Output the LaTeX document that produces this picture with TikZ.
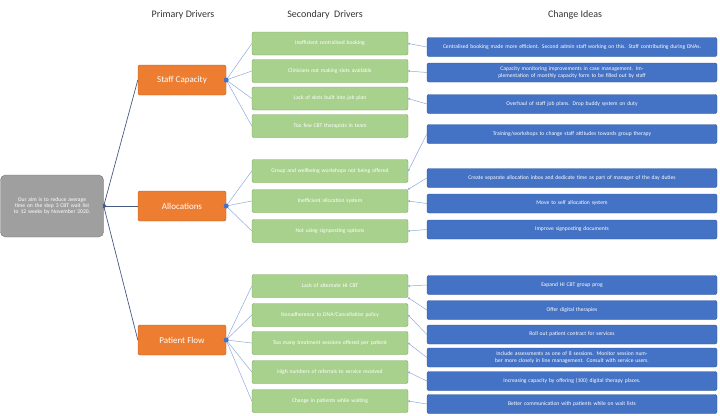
\documentclass[tikz,border=0pt]{standalone}
\usepackage{fontspec}
\setmainfont{Carlito}
\usetikzlibrary{arrows.meta}
\definecolor{orfill}{RGB}{237,125,49}
\definecolor{ordraw}{RGB}{190,95,40}
\definecolor{grfill}{RGB}{169,209,142}
\definecolor{grdraw}{RGB}{120,165,95}
\definecolor{blfill}{RGB}{68,114,196}
\definecolor{bldraw}{RGB}{47,85,151}
\definecolor{lklight}{RGB}{143,170,220}
\definecolor{lkdark}{RGB}{70,90,130}
\begin{document}
\begin{tikzpicture}[x=1pt,y=-1pt,
 base/.style={rounded corners=2pt,text=white,align=center,inner sep=1pt,font=\fontsize{5.6}{6.2}\selectfont},
 aim/.style={base,fill=gray!75,draw=gray!90!black,minimum width=103pt,minimum height=62pt,text width=88pt,rounded corners=5pt},
 prim/.style={base,fill=orfill,draw=ordraw,minimum width=88pt,minimum height=30pt,font=\fontsize{9}{10}\selectfont},
 sec/.style={base,fill=grfill,draw=grdraw,minimum width=156pt,minimum height=23pt,text width=150pt},
 idea/.style={base,fill=blfill,draw=bldraw,minimum width=290pt,minimum height=19pt,text width=285pt},
 hdr/.style={font=\fontsize{10}{12}\selectfont,text=black!80},
 lk/.style={draw=lklight,line width=0.5pt},
 mk/.style={lk,-{Circle[length=2pt]}},
 pk/.style={draw=lkdark,line width=0.7pt}]
\useasboundingbox (0,0) rectangle (720,415);
\node[hdr] (h1) at (183,15) {Primary Drivers};
\node[hdr] (h2) at (325,15) {Secondary\ \ Drivers};
\node[hdr] (h3) at (575,15) {Change Ideas};
\node[aim] (aim) at (52,206) {Our aim is to reduce average time on the step 3 CBT wait list to 12 weeks by November 2020.};
\node[prim] (p1) at (182,80) {Staff Capacity};
\node[prim] (p2) at (182,206) {Allocations};
\node[prim] (p3) at (182,340) {Patient Flow};
\node[sec] (s1) at (330,43.5) {Inefficient centralised booking};
\node[sec] (s2) at (330,71) {Clinicians not making slots available};
\node[sec] (s3) at (330,98.5) {Lack of slots built into job plan};
\node[sec] (s4) at (330,126) {Too few CBT therapists in team};
\node[sec] (s5) at (330,171) {Group and wellbeing workshops not being offered};
\node[sec] (s6) at (330,201) {Inefficient allocation system};
\node[sec] (s7) at (330,231) {Not using signposting options};
\node[sec] (s8) at (330,286) {Lack of alternate HI CBT};
\node[sec] (s9) at (330,315) {Nonadherence to DNA/Cancellation policy};
\node[sec] (s10) at (330,343) {Too many treatment sessions offered per patient};
\node[sec] (s11) at (330,372) {High numbers of referrals to service received};
\node[sec] (s12) at (330,401) {Change in patients while waiting};
\node[idea] (i1) at (572,47) {Centralised booking made more efficient. Second admin staff working on this. Staff contributing during DNAs.};
\node[idea] (i2) at (572,72.5) {Capacity monitoring improvements in case management. Implementation of monthly capacity form to be filled out by staff};
\node[idea] (i3) at (572,104) {Overhaul of staff job plans. Drop buddy system on duty};
\node[idea] (i4) at (572,134) {Training/workshops to change staff attitudes towards group therapy};
\node[idea] (i5) at (572,178) {Create separate allocation inbox and dedicate time as part of manager of the day duties};
\node[idea] (i6) at (572,203.5) {Move to self allocation system};
\node[idea] (i7) at (572,229.5) {Improve signposting documents};
\node[idea] (i8) at (572,285) {Expand HI CBT group prog};
\node[idea] (i9) at (572,310) {Offer digital therapies};
\node[idea] (i10) at (572,334.5) {Roll out patient contract for services};
\node[idea] (i11) at (572,357.5) {Include assessments as one of 8 sessions. Monitor session number more closely in line management. Consult with service users.};
\node[idea] (i12) at (572,381) {Increasing capacity by offering (100) digital therapy places.};
\node[idea] (i13) at (572,404) {Better communication with patients while on wait lists};
\foreach \p in {p1,p2,p3} \draw[pk,-{Circle[length=2.5pt]}] (\p.west) -- (aim.east);
\foreach \s in {s1,s2,s3,s4} \draw[lk] (p1.east) -- (\s.west);
\foreach \s in {s5,s6,s7} \draw[lk] (p2.east) -- (\s.west);
\foreach \s in {s8,s9,s10,s11,s12} \draw[lk] (p3.east) -- (\s.west);
\foreach \p in {p1,p2,p3} \fill[blfill] (\p.east) circle (2.5pt);
\draw[mk] (i1.west) -- (s1.east);
\draw[mk] (i2.west) -- (s2.east);
\draw[mk] (i3.west) -- (s3.east);
\draw[mk] (i4.west) -- (s5.east);
\draw[mk] (i5.west) -- (s6.north east);
\draw[mk] (i6.west) -- (s6.east);
\draw[mk] (i7.west) -- (s7.east);
\draw[mk] (i8.west) -- (s8.east);
\draw[mk] (i9.west) -- (s8.south east);
\draw[mk] (i10.west) -- (s9.east);
\draw[mk] (i11.west) -- (s10.east);
\draw[mk] (i12.west) -- (s11.east);
\draw[mk] (i13.west) -- (s12.east);
\end{tikzpicture}
\end{document}
